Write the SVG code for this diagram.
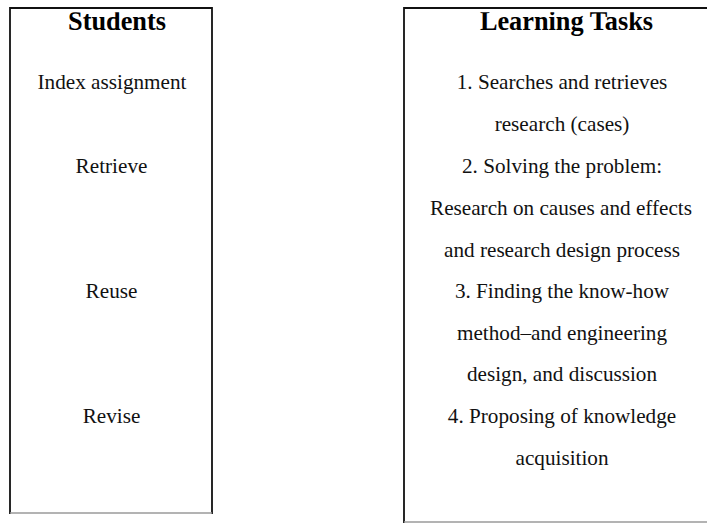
<svg xmlns="http://www.w3.org/2000/svg" width="707" height="523" viewBox="0 0 707 523">
<style>
.frame{fill:none;stroke:#111;stroke-width:1.8}
.base{fill:none;stroke:#9a9a9a;stroke-width:1.6}
.title{font-family:"Liberation Serif","Times New Roman",serif;font-weight:bold;font-size:26.3px;fill:#000;text-anchor:middle}
.body{font-family:"Liberation Serif","Times New Roman",serif;font-size:21.2px;fill:#111;text-anchor:middle}
</style>
<defs>
<clipPath id="topclip"><rect x="0" y="12.3" width="707" height="510"/></clipPath>
</defs>
<rect width="707" height="523" fill="#fff"/>
<g id="students">
<path class="frame" d="M10,514 V8 H212 V514"/>
<line class="base" x1="10" y1="513" x2="212" y2="513"/>
<text class="title" x="117" y="29.5" clip-path="url(#topclip)">Students</text>
<text class="body" x="112" y="89">Index assignment</text>
<text class="body" x="111.5" y="172.5">Retrieve</text>
<text class="body" x="111.5" y="298">Reuse</text>
<text class="body" x="111.5" y="423">Revise</text>
</g>
<g id="learning-tasks">
<path class="frame" d="M404,523 V8 H710"/>
<line class="base" x1="404" y1="522" x2="710" y2="522"/>
<text class="title" x="566.5" y="29.5" clip-path="url(#topclip)">Learning Tasks</text>
<text class="body" x="562" y="89">1. Searches and retrieves</text>
<text class="body" x="562" y="131">research (cases)</text>
<text class="body" x="562" y="172.5">2. Solving the problem:</text>
<text class="body" x="561" y="214.5">Research on causes and effects</text>
<text class="body" x="562" y="256.5">and research design process</text>
<text class="body" x="562" y="298">3. Finding the know-how</text>
<text class="body" x="562" y="339.5">method–and engineering</text>
<text class="body" x="562" y="381">design, and discussion</text>
<text class="body" x="562" y="423">4. Proposing of knowledge</text>
<text class="body" x="562" y="465">acquisition</text>
</g>
<g id="connectors"/>
</svg>
